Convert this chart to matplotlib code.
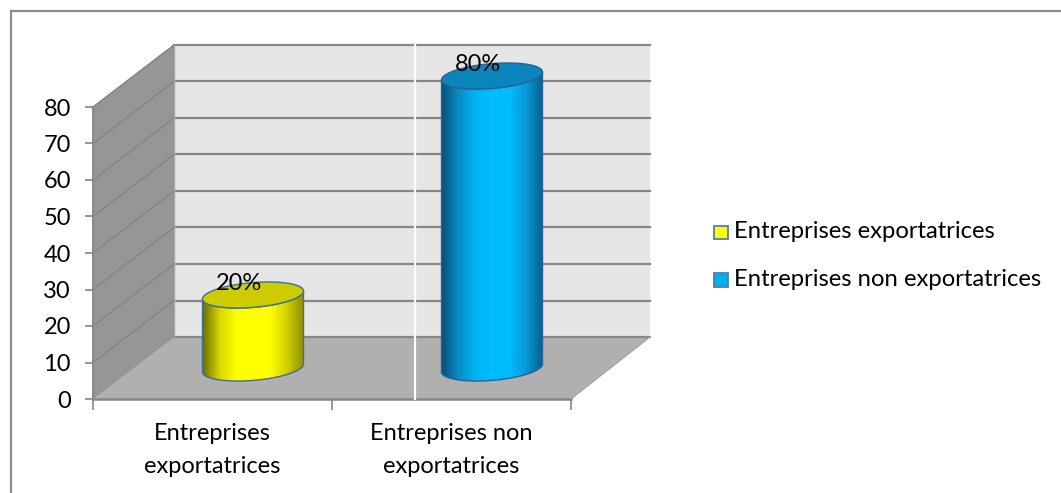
import numpy as np
import matplotlib
matplotlib.use('Agg')
import matplotlib.pyplot as plt
from matplotlib.colors import LinearSegmentedColormap
from matplotlib.patches import Polygon, Rectangle

plt.rcParams['font.family'] = ['Lato', 'DejaVu Sans']

# Donnees
categories = ['Entreprises\nexportatrices', 'Entreprises non\nexportatrices']
series_names = ['Entreprises exportatrices', 'Entreprises non exportatrices']
values = [20, 80]
labels = ['20%', '80%']
yticks = [0, 10, 20, 30, 40, 50, 60, 70, 80]

W, H = 1061, 493
fig = plt.figure(figsize=(W / 100, H / 100), dpi=100)

# Cadre exterieur
fig.add_artist(plt.Line2D([10.5 / W, 10.5 / W], [0, 1 - 10.5 / H], color='#8c8c8c', lw=1.6))
fig.add_artist(plt.Line2D([10.5 / W, 1], [1 - 10.5 / H, 1 - 10.5 / H], color='#8c8c8c', lw=1.6))

# Plan avant : x 93..571, y 399..107
ax = fig.add_axes([93 / W, 1 - 399 / H, (571 - 93) / W, (399 - 107) / H])
ax.set_xlim(0, 2)
ax.set_ylim(0, 80)
for s in ax.spines.values():
    s.set_visible(False)
ax.patch.set_alpha(0)

# Profondeur 3D en unites de donnees
dx = 81 / 239
dy = 62 / 3.65
grey = '#868686'

ax.add_patch(Polygon([(dx, dy), (2 + dx - 2 / 239, dy), (2 + dx - 2 / 239, 80 + dy), (dx, 80 + dy)],
                     fc='#e6e6e6', ec='none', clip_on=False, zorder=1))
ax.add_patch(Polygon([(0, 0), (dx, dy), (dx, 80 + dy), (0, 80)],
                     fc='#969696', ec='#8c8c8c', lw=0.8, clip_on=False, zorder=1))
ax.add_patch(Polygon([(0, 0), (2, 0), (2 + dx - 2 / 239, dy), (dx, dy)],
                     fc='#b0b0b0', ec='none', clip_on=False, zorder=2))
for v in yticks:
    ax.plot([dx, 2 + dx - 2 / 239], [v + dy, v + dy], color=grey, lw=1.6, clip_on=False, zorder=2)
    if v > 0:
        ax.plot([0, dx], [v, v + dy], color='#808080', lw=0.8, clip_on=False, zorder=2)
ax.plot([0, 2], [0, 0], color=grey, lw=1.8, clip_on=False, zorder=3)
ax.plot([0, 0], [0, 80], color=grey, lw=1.2, clip_on=False, zorder=3)
ax.plot([2, 2 + dx - 2 / 239], [0, dy], color='#a0a0a0', lw=0.8, clip_on=False, zorder=3)
ax.plot([dx, dx], [dy, 80 + dy], color='#a8a8a8', lw=1.0, clip_on=False, zorder=2)

# Trait blanc vertical
sep_x = (415 - 93) / 239
ax.plot([sep_x, sep_x], [0, 80 + dy], color='white', lw=1.6, clip_on=False, zorder=4)

ax.set_xticks([0, 1, 2])
ax.set_xticklabels([])
ax.set_yticks(yticks)
ax.set_yticklabels([str(v) for v in yticks], fontsize=17, color='black')
ax.tick_params(axis='x', length=8, width=1.2, color=grey, direction='out', pad=4)
ax.tick_params(axis='y', length=6, width=1.2, color=grey, direction='out', pad=10)
for i, c in enumerate(categories):
    ax.text(i + 0.5, -6.5, c, ha='center', va='top', fontsize=17, linespacing=1.72)

# Cylindres
cyl_cols = [
    (['#6f7000', '#d8d800', '#ffff00', '#ffff00', '#ffff00', '#d0d000', '#8e8e00'], '#cccc00', '#3f6f94'),
    (['#07527a', '#0a8cc4', '#00b4f4', '#00bcff', '#00bcff', '#0898d4', '#06608e'], '#0a86bd', '#2f5f96'),
]
half_w = 50.5 / 239
shear = 4 / 3.65
minor = 12.4 / 3.65
t = np.linspace(0, 2 * np.pi, 200)
for i, v in enumerate(values):
    cx = i + 0.5 + dx / 2
    cy = dy / 2
    xe = half_w * np.cos(t)
    ye = shear * np.cos(t) + minor * np.sin(t)
    # contour : demi-ellipse du bas + haut du cylindre
    low = np.linspace(np.pi, 2 * np.pi, 100)
    xl = cx + half_w * np.cos(low)
    yl = cy + shear * np.cos(low) + minor * np.sin(low)
    xs = np.r_[xl, xl[::-1]]
    ys = np.r_[yl, yl[::-1] + v]
    ax.add_patch(Polygon(np.c_[xs, ys], fc='none', ec=cyl_cols[i][2], lw=1.0, clip_on=False, zorder=6))
    cmap = LinearSegmentedColormap.from_list('c%d' % i, cyl_cols[i][0])
    img = ax.imshow(np.linspace(0, 1, 256).reshape(1, -1), cmap=cmap, aspect='auto',
                    extent=[cx - half_w, cx + half_w, cy - minor - shear, cy + v + minor + shear],
                    zorder=5)
    # l'image depasse le haut des axes : clip sur la figure + contour du cylindre
    clip = Polygon(np.c_[xs, ys], transform=ax.transData, fc='none', ec='none')
    img.set_clip_path(clip)
    img.set_clip_box(fig.bbox)
    ax.add_patch(Polygon(np.c_[cx + xe, cy + v + ye], fc=cyl_cols[i][1], ec=cyl_cols[i][2], lw=1.0,
                         clip_on=False, zorder=7))
    ax.text(cx - 0.06, cy + v + 0.2, labels[i], ha='center', va='bottom', fontsize=17, zorder=8)
ax.set_xlim(0, 2)
ax.set_ylim(0, 80)

# Legende
leg_cols = ['#ffff00', '#00b0f0']
leg_y = [232, 279]
for name, col, ly in zip(series_names, leg_cols, leg_y):
    fig.add_artist(Rectangle((714 / W, 1 - (ly + 7.5) / H), 14 / W, 14 / H, transform=fig.transFigure,
                             fc=col, ec='#4f7fa8', lw=1.3))
    fig.text(734 / W, 1 - ly / H, name, ha='left', va='center', fontsize=17.2)

fig.savefig('out.png', dpi=100, facecolor='white')
